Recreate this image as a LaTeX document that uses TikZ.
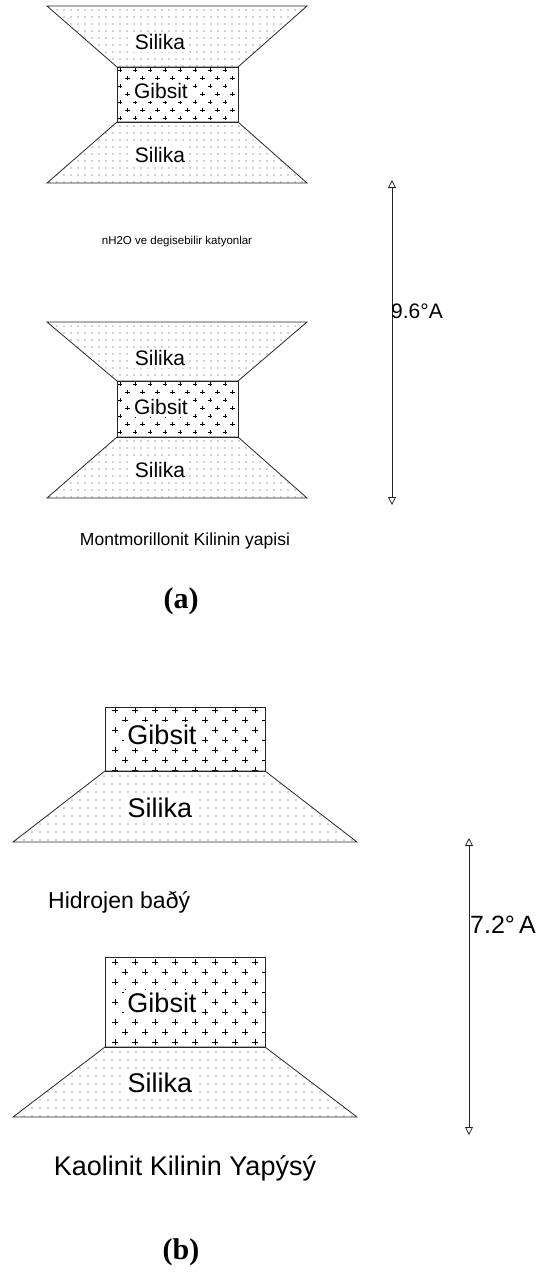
\documentclass[tikz,border=0pt]{standalone}
\usepackage{fontspec}
\setmainfont{Liberation Sans}
\newfontfamily\timesf{Liberation Serif}
\usetikzlibrary{arrows.meta}
\newcommand\dotgrid[5]{\foreach \xx in {#1,\the\numexpr#1+#5\relax,...,#3}{\foreach \yy in {#2,\the\numexpr#2+#5\relax,...,#4}{\fill[black!75] (\xx,\yy) circle (0.55);}}}
\newcommand\crossgrid[6]{% x1 y1 x2 y2 hsp vsp
 \foreach \yy [count=\ri] in {#2,\the\numexpr#2+#6\relax,...,#4}{%
   \pgfmathsetmacro\off{mod(\ri,2)==0 ? #5/2 : 0}%
   \foreach \xx in {#1,\the\numexpr#1+#5\relax,...,#3}{%
     \draw[black,line width=0.5] (\xx+\off-#6*0.3,\yy) -- (\xx+\off+#6*0.3,\yy) (\xx+\off,\yy-#6*0.3) -- (\xx+\off,\yy+#6*0.3);}}}
\tikzset{
 lay/.style={draw=black!85,line width=0.8},
 lbl/.style={fill=white,inner sep=2.5,font=\fontsize{21}{24}\selectfont},
 lblb/.style={fill=white,inner sep=3,font=\fontsize{27}{30}\selectfont},
 dim/.style={black!85,line width=0.8,{Triangle[open,length=8,width=8]}-{Triangle[open,length=8,width=8]}},
}
\begin{document}
\begin{tikzpicture}[x=1pt,y=-1pt]
\useasboundingbox (0,0) rectangle (539,1288);
% ---- (a) first layer
\begin{scope}\clip (47,6)--(307,6)--(238,67)--(117,67)--cycle; \dotgrid{50}{10}{307}{67}{7}\end{scope}
\begin{scope}\clip (117,67) rectangle (238,122); \crossgrid{120}{70}{240}{122}{15}{8}\end{scope}
\begin{scope}\clip (117,122)--(238,122)--(307,183)--(47,183)--cycle; \dotgrid{50}{126}{307}{183}{7}\end{scope}
\draw[lay] (47,6)--(307,6)--(238,67)--(117,67)--cycle;
\draw[lay] (117,67) rectangle (238,122);
\draw[lay] (117,122)--(238,122)--(307,183)--(47,183)--cycle;
\node[lbl] (s1) at (160,42) {Silika};
\node[lbl] (g1) at (161,91) {Gibsit};
\node[lbl] (s2) at (160,155) {Silika};
% ---- (a) second layer
\begin{scope}\clip (47,322)--(307,322)--(238,381)--(117,381)--cycle; \dotgrid{50}{326}{307}{381}{7}\end{scope}
\begin{scope}\clip (117,381) rectangle (238,437); \crossgrid{120}{384}{240}{437}{15}{8}\end{scope}
\begin{scope}\clip (117,437)--(238,437)--(307,498)--(47,498)--cycle; \dotgrid{50}{441}{307}{498}{7}\end{scope}
\draw[lay] (47,322)--(307,322)--(238,381)--(117,381)--cycle;
\draw[lay] (117,381) rectangle (238,437);
\draw[lay] (117,437)--(238,437)--(307,498)--(47,498)--cycle;
\node[lbl] (s3) at (160,358) {Silika};
\node[lbl] (g2) at (161,407) {Gibsit};
\node[lbl] (s4) at (160,470) {Silika};
\node[font=\fontsize{11.5}{13}\selectfont] (w) at (177,242) {nH2O ve degisebilir katyonlar};
\node[font=\fontsize{17.5}{20}\selectfont] (m) at (185,541) {Montmorillonit Kilinin yapisi};
\node[font=\timesf\bfseries\fontsize{30}{34}\selectfont] (a) at (181,601) {(a)};
\coordinate (at) at (392,180);
\coordinate (ab) at (392,505);
\draw[dim] (at) -- (ab);
\node[anchor=west,inner sep=0,font=\fontsize{21}{24}\selectfont] (d1) at (391,311) {9.6°A};
% ---- (b) first layer
\begin{scope}\clip (105,707) rectangle (265,771); \crossgrid{115}{710}{265}{771}{20}{10}\end{scope}
\begin{scope}\clip (105,771)--(265,771)--(357,842)--(13,842)--cycle; \dotgrid{16}{776}{357}{842}{8}\end{scope}
\draw[lay] (105,707) rectangle (265,771);
\draw[lay] (105,771)--(265,771)--(357,842)--(13,842)--cycle;
\node[lblb] (g3) at (162,735) {Gibsit};
\node[lblb] (s5) at (160,808) {Silika};
\node[anchor=west,font=\fontsize{23}{26}\selectfont,inner sep=0] (h) at (48,902) {Hidrojen baðý};
% ---- (b) second layer
\begin{scope}\clip (105,957) rectangle (265,1047); \crossgrid{115}{962}{265}{1047}{20}{10}\end{scope}
\begin{scope}\clip (105,1047)--(265,1047)--(357,1117)--(13,1117)--cycle; \dotgrid{16}{1052}{357}{1117}{8}\end{scope}
\draw[lay] (105,957) rectangle (265,1047);
\draw[lay] (105,1047)--(265,1047)--(357,1117)--(13,1117)--cycle;
\node[lblb] (g4) at (162,1003) {Gibsit};
\node[lblb] (s6) at (160,1083) {Silika};
\node[font=\fontsize{27}{30}\selectfont] (k) at (185,1168) {Kaolinit Kilinin Yapýsý};
\node[font=\timesf\bfseries\fontsize{30}{34}\selectfont] (b) at (181,1252) {(b)};
\coordinate (bt) at (469,838);
\coordinate (bb) at (469,1135);
\draw[dim] (bt) -- (bb);
\node[anchor=west,inner sep=0,font=\fontsize{25}{28}\selectfont] (d2) at (470,925) {7.2°\,A};
\end{tikzpicture}
\end{document}
